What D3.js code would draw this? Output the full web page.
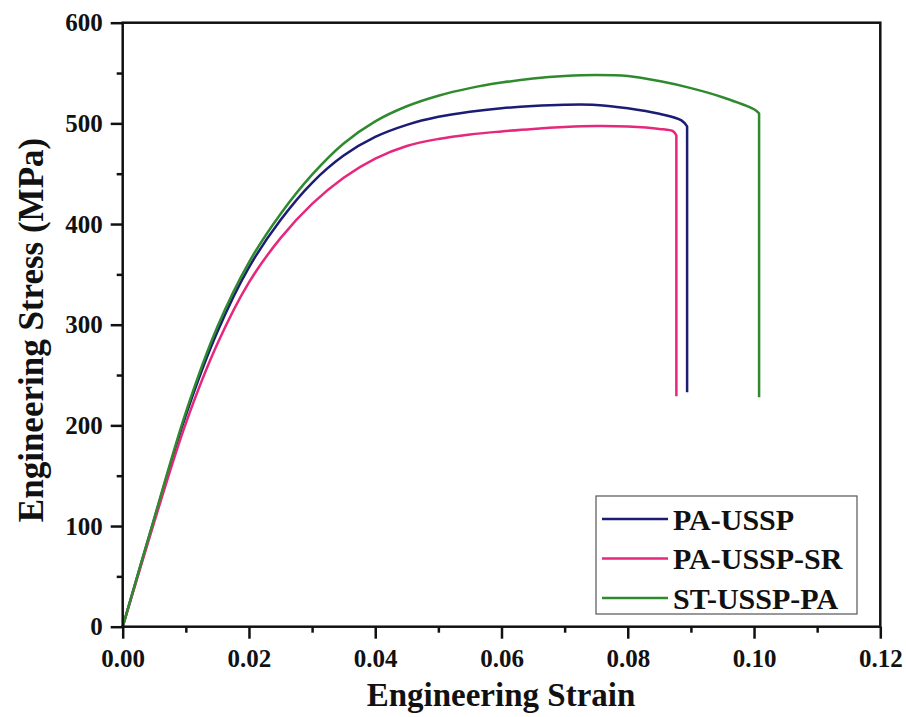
<!DOCTYPE html>
<meta charset="utf-8">
<style>
body { margin: 0; background: #fff; }
text { font-family: 'Liberation Serif', 'Times New Roman', serif; font-weight: bold; }
.tick text { font-size: 25px; fill: #111; }
.axis path, .axis line { stroke: #111; stroke-width: 2.5px; }
.legendLabel { font-size: 30px; fill: #111; }
.curve { fill: none; stroke-width: 2.5px; stroke-linejoin: round; }
</style>
<body>
<script src="https://d3js.org/d3.v7.min.js"></script>
<script>

// strain / stress pairs
const paUssp = [[0,0],[0.005,107],[0.01,210],[0.015,293],[0.02,357],[0.025,404],[0.03,441],[0.035,468],[0.04,486.5],
                [0.045,498.5],[0.05,506.5],[0.055,511.5],[0.06,515],[0.065,517.3],[0.07,518.5],[0.075,518.3],[0.08,515],
                [0.085,509.5],[0.0885,503],[0.0894,497]];
const paUsspSr = [[0,0],[0.005,104],[0.01,202],[0.015,281],[0.02,342],[0.025,386],[0.03,420],[0.035,446],[0.04,465],
                  [0.045,477.5],[0.05,484.5],[0.055,489],[0.06,492],[0.065,494.5],[0.07,496.3],[0.075,497.3],[0.08,496.8],
                  [0.085,494.5],[0.0872,492],[0.0877,488]];
const stUsspPa = [[0,0],[0.005,108],[0.01,213],[0.015,298],[0.02,362],[0.025,410],[0.03,449],[0.035,480],[0.04,502],
                  [0.045,517],[0.05,527.5],[0.055,535],[0.06,540.5],[0.065,544.5],[0.07,547],[0.075,548],[0.08,547],
                  [0.085,542],[0.09,535],[0.095,526],[0.1,514],[0.1008,510]];
// fracture drop, last stress value
const dropTo = [233, 229, 228];

const names = ["PA-USSP", "PA-USSP-SR", "ST-USSP-PA"];
const colors = ["#1c1c75", "#e5287c", "#2f8a2f"];
const series = [paUssp, paUsspSr, stUsspPa];

const xTicks = [0, 0.02, 0.04, 0.06, 0.08, 0.10, 0.12];
const xMinor = [0.01, 0.03, 0.05, 0.07, 0.09, 0.11];
const yTicks = [0, 100, 200, 300, 400, 500, 600];
const yMinor = [50, 150, 250, 350, 450, 550];

const width = 906, height = 717;
const plotLeft = 122.7, plotRight = 880.3, plotTop = 22.7, plotBottom = 626.7;

let svg = d3.select("body").append("svg")
            .attr("width", width)
            .attr("height", height);

let x = d3.scaleLinear().domain([0, 0.12]).range([plotLeft, plotRight]),
    y = d3.scaleLinear().domain([0, 600]).range([plotBottom, plotTop]);

// curves
let line = d3.line()
             .x(d => x(d[0]))
             .y(d => y(d[1]))
             .curve(d3.curveCatmullRom.alpha(0.5));

series.forEach((s, i) => {
    let last = s[s.length - 1];
    svg.append("path")
        .attr("class", "curve")
        .attr("stroke", colors[i])
        .attr("d", line(s) + "L" + x(last[0]) + "," + y(dropTo[i]));
});

// axes
svg.append("g")
    .attr("class", "axis")
    .attr("transform", `translate(0,${plotBottom})`)
    .call(d3.axisBottom(x).tickValues(xMinor).tickSize(6).tickFormat("").tickSizeOuter(0))
    .call(g => g.select(".domain").remove());

svg.append("g")
    .attr("class", "axis")
    .attr("transform", `translate(0,${plotBottom})`)
    .call(d3.axisBottom(x).tickValues(xTicks).tickSize(12).tickPadding(11).tickSizeOuter(0).tickFormat(d3.format(".2f")))
    .call(g => g.select(".domain").remove());

svg.append("g")
    .attr("class", "axis")
    .attr("transform", `translate(${plotLeft},0)`)
    .call(d3.axisLeft(y).tickValues(yMinor).tickSize(6).tickFormat("").tickSizeOuter(0))
    .call(g => g.select(".domain").remove());

svg.append("g")
    .attr("class", "axis")
    .attr("transform", `translate(${plotLeft},0)`)
    .call(d3.axisLeft(y).tickValues(yTicks).tickSize(12).tickPadding(8).tickSizeOuter(0))
    .call(g => g.select(".domain").remove());

svg.append("rect")
    .attr("x", plotLeft)
    .attr("y", plotTop)
    .attr("width", plotRight - plotLeft)
    .attr("height", plotBottom - plotTop)
    .attr("fill", "none")
    .attr("stroke", "#111")
    .attr("stroke-width", 2.5);

// axis titles
svg.append("text")
    .attr("x", 501)
    .attr("y", 706)
    .attr("text-anchor", "middle")
    .attr("font-size", 33)
    .attr("fill", "#111")
    .text("Engineering Strain");

svg.append("text")
    .attr("transform", "translate(43,330) rotate(-90)")
    .attr("text-anchor", "middle")
    .attr("font-size", 35)
    .attr("fill", "#111")
    .text("Engineering Stress (MPa)");

// legend
let legend = svg.append("g").attr("transform", "translate(596,496)");

legend.append("rect")
    .attr("width", 261)
    .attr("height", 118)
    .attr("fill", "#fff")
    .attr("stroke", "#555")
    .attr("stroke-width", 1.2);

const lg = legend.selectAll("g")
            .data(names)
            .join("g")
                .attr("transform", (d, i) => `translate(0,${23 + i * 39.5})`);

lg.append("line")
    .attr("x1", 6)
    .attr("x2", 72)
    .attr("stroke", (d, i) => colors[i])
    .attr("stroke-width", 2.5);

lg.append("text")
    .attr("class", "legendLabel")
    .attr("x", 77)
    .attr("dy", "0.35em")
    .text(d => d);

</script>
